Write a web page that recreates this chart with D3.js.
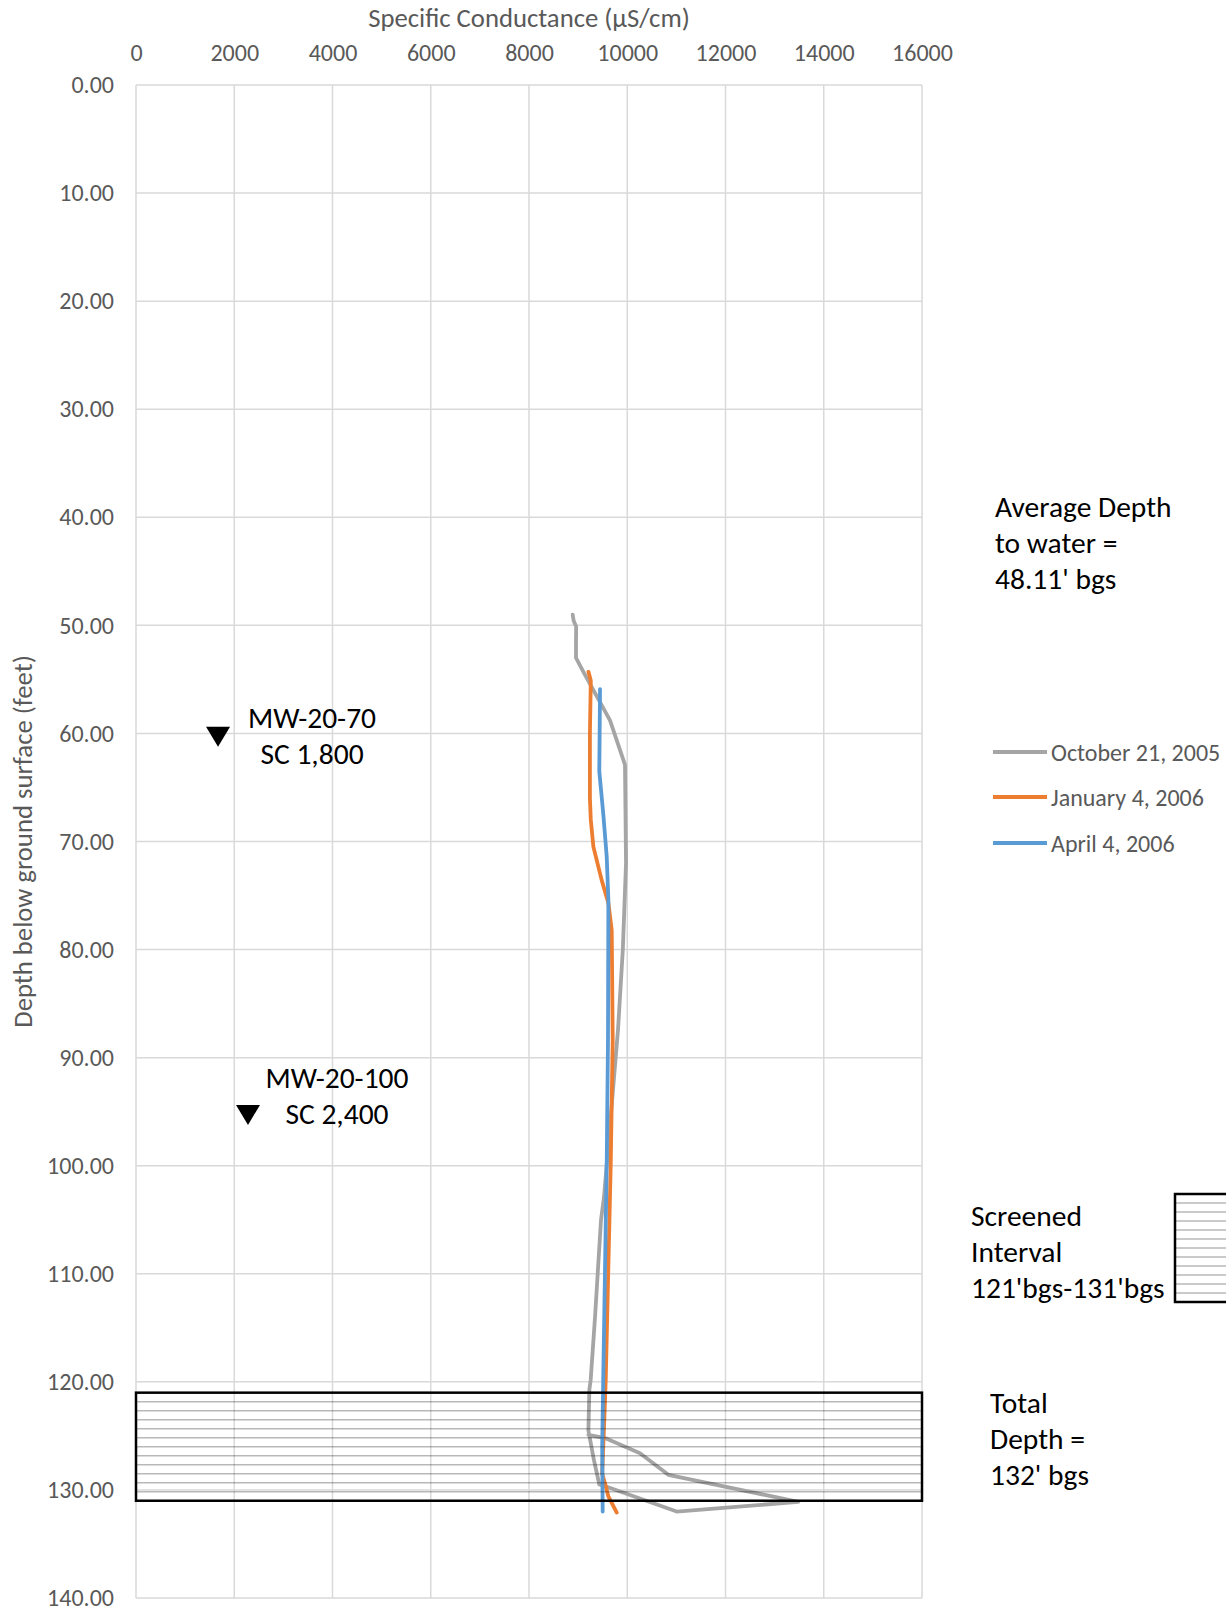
<!DOCTYPE html>
<html lang="en">
<head>
<meta charset="utf-8">
<title>Specific Conductance profile</title>
<script src="https://cdn.jsdelivr.net/npm/d3@7"></script>
<style type="text/css">
  body {
    margin: 0;
    background: #fff;
    font-family: Carlito, Calibri, Lato, sans-serif;
  }
  .grid line {
    stroke: #d9d9d9;
    stroke-width: 1.5;
  }
  .tick text {
    fill: #595959;
    font-size: 24px;
  }
  path.domain { display: none; }
  .series {
    fill: none;
    stroke-width: 3.8;
    stroke-linejoin: round;
    stroke-linecap: round;
  }
  .note { fill: #000; font-size: 29.5px; }
  .title { fill: #595959; font-size: 26.7px; }
  .legend text { fill: #595959; font-size: 24px; }
</style>
</head>
<body>
<div id="vis"></div>
<script type="text/javascript">

/* Data */
/* ==== */

var xTicks = [0, 2000, 4000, 6000, 8000, 10000, 12000, 14000, 16000];
var yTicks = [0, 10, 20, 30, 40, 50, 60, 70, 80, 90, 100, 110, 120, 130, 140];

var seriesNames = ['October 21, 2005', 'January 4, 2006', 'April 4, 2006'];
var seriesColors = ['#a5a5a5', '#ed7d31', '#5b9bd5'];

// October 21, 2005 (depth in feet, SC in µS/cm)
var octDepth = [49.0, 49.6, 50.1, 51.4, 53.0, 54.3, 58.8, 62.9, 72.0, 80.0, 87.4, 102.9, 105.0, 114.0, 119.8, 120.7, 124.5, 127.2, 129.5, 129.7, 132.0, 131.1, 128.6, 126.6, 125.2, 124.9];
var octSC    = [8889, 8910, 8960, 8957, 8957, 9107, 9649, 9954, 9975, 9910, 9812, 9527, 9466, 9344, 9256, 9229, 9209, 9320, 9431, 9582, 11006, 13482, 10836, 10260, 9548, 9209];

// January 4, 2006
var janDepth = [54.3, 55.1, 60.0, 66.0, 68.0, 70.5, 73.6, 75.7, 78.2, 88.4, 99.8, 119.8, 125.0, 128.5, 129.4, 130.6, 132.1];
var janSC    = [9210, 9258, 9240, 9240, 9258, 9311, 9481, 9616, 9684, 9704, 9664, 9562, 9520, 9490, 9548, 9616, 9786];

// April 4, 2006
var aprDepth = [55.9, 63.5, 67.4, 71.4, 75.4, 88.4, 99.8, 119.8, 126.0, 132.0];
var aprSC    = [9446, 9431, 9511, 9582, 9616, 9608, 9582, 9511, 9490, 9500];

// Monitoring well markers
var wellNames = ['MW-20-70', 'MW-20-100'];
var wellSC = ['SC 1,800', 'SC 2,400'];
var wellX = [1670, 2280];
var wellDepth = [60.3, 95.3];

var screenTop = 121, screenBottom = 131;


/* Set up */
/* ====== */

var width = 1226, height = 1608;
var margin = { top: 85, left: 136, right: 304, bottom: 10 };
var plotW = 786, plotH = 1513;

var svg = d3.select('#vis').append('svg')
    .attr('width', width)
    .attr('height', height);

var x = d3.scaleLinear().domain([0, 16000]).range([margin.left, margin.left + plotW]);
var y = d3.scaleLinear().domain([0, 140]).range([margin.top, margin.top + plotH]);


/* Grid */
/* ---- */

var grid = svg.append('g').attr('class', 'grid');

grid.selectAll('.vline').data(xTicks).enter()
  .append('line')
    .attr('x1', function(d) { return x(d); })
    .attr('x2', function(d) { return x(d); })
    .attr('y1', y(0))
    .attr('y2', y(140));

grid.selectAll('.hline').data(yTicks).enter()
  .append('line')
    .attr('x1', x(0))
    .attr('x2', x(16000))
    .attr('y1', function(d) { return y(d); })
    .attr('y2', function(d) { return y(d); });


/* Axes */
/* ---- */

svg.append('g')
    .attr('transform', 'translate(0,' + margin.top + ')')
    .call(d3.axisTop(x).tickValues(xTicks).tickSize(0).tickPadding(24).tickFormat(d3.format('d')));

svg.append('g')
    .attr('transform', 'translate(' + margin.left + ',0)')
    .call(d3.axisLeft(y).tickValues(yTicks).tickSize(0).tickPadding(22).tickFormat(d3.format('.2f')));

svg.selectAll('.tick text').style('font-family', 'Carlito, Calibri, Lato, sans-serif');

svg.append('text')
    .attr('class', 'title')
    .attr('x', x(8000))
    .attr('y', 27)
    .attr('text-anchor', 'middle')
    .text('Specific Conductance (µS/cm)');

svg.append('text')
    .attr('class', 'title')
    .attr('transform', 'translate(32,' + y(70) + ') rotate(-90)')
    .attr('text-anchor', 'middle')
    .text('Depth below ground surface (feet)');


/* Series */
/* ------ */

function zip(sc, depth) {
  return sc.map(function(v, i) { return [v, depth[i]]; });
}

var seriesData = [zip(octSC, octDepth), zip(janSC, janDepth), zip(aprSC, aprDepth)];

var line = d3.line()
    .x(function(d) { return x(d[0]); })
    .y(function(d) { return y(d[1]); });

svg.selectAll('.series').data(seriesData).enter()
  .append('path')
    .attr('class', 'series')
    .attr('stroke', function(d, i) { return seriesColors[i]; })
    .attr('d', line);


/* Screened interval box */
/* --------------------- */

function hatchBox(g, x0, y0, w, h, spacing) {
  var n = Math.floor(h / spacing);
  for (var k = 1; k <= n; k++) {
    var yy = y0 + k * (h / (n + 1));
    g.append('line')
        .attr('x1', x0).attr('x2', x0 + w)
        .attr('y1', yy).attr('y2', yy)
        .attr('stroke', 'rgba(0,0,0,0.28)')
        .attr('stroke-width', 1.5);
  }
  g.append('rect')
      .attr('x', x0).attr('y', y0)
      .attr('width', w).attr('height', h)
      .attr('fill', 'none')
      .attr('stroke', '#000')
      .attr('stroke-width', 2.5);
}

hatchBox(svg.append('g'), x(0), y(screenTop), x(16000) - x(0), y(screenBottom) - y(screenTop), 9.4);

// legend swatch for the screened interval
hatchBox(svg.append('g'), 1175, 1194, 60, 108, 9.1);


/* Well markers */
/* ------------ */

var labelDx = [94, 89];
var labelDy = [-9, -26.5];

var wells = svg.selectAll('.well').data(wellNames).enter()
  .append('g').attr('class', 'well');

wells.append('path')
    .attr('d', function(d, i) {
      var cx = x(wellX[i]), cy = y(wellDepth[i]);
      return 'M' + (cx - 12) + ',' + (cy - 10) + 'L' + (cx + 12) + ',' + (cy - 10) + 'L' + cx + ',' + (cy + 10) + 'Z';
    })
    .attr('fill', '#000');

wells.append('text')
    .attr('class', 'note')
    .attr('x', function(d, i) { return x(wellX[i]) + labelDx[i]; })
    .attr('y', function(d, i) { return y(wellDepth[i]) + labelDy[i]; })
    .attr('text-anchor', 'middle')
    .text(function(d) { return d; });

wells.append('text')
    .attr('class', 'note')
    .attr('x', function(d, i) { return x(wellX[i]) + labelDx[i]; })
    .attr('y', function(d, i) { return y(wellDepth[i]) + labelDy[i] + 36; })
    .attr('text-anchor', 'middle')
    .text(function(d, i) { return wellSC[i]; });


/* Side notes */
/* ---------- */

function note(lines, x0, y0) {
  var t = svg.append('text').attr('class', 'note');
  lines.forEach(function(s, i) {
    t.append('tspan').attr('x', x0).attr('y', y0 + i * 36).text(s);
  });
}

note(['Average Depth', 'to water =', "48.11' bgs"], 995, 517);
note(['Screened', 'Interval', "121'bgs-131'bgs"], 971, 1226);
note(['Total', 'Depth =', "132' bgs"], 990, 1413);


/* Legend */
/* ------ */

var legend = svg.append('g').attr('class', 'legend');
var legendY = [752, 797, 843];

legend.selectAll('line').data(seriesNames).enter()
  .append('line')
    .attr('x1', 993).attr('x2', 1047)
    .attr('y1', function(d, i) { return legendY[i]; })
    .attr('y2', function(d, i) { return legendY[i]; })
    .attr('stroke', function(d, i) { return seriesColors[i]; })
    .attr('stroke-width', 3.8);

legend.selectAll('text').data(seriesNames).enter()
  .append('text')
    .attr('x', 1051)
    .attr('y', function(d, i) { return legendY[i] + 8.5; })
    .text(function(d) { return d; });

</script>
</body>
</html>
